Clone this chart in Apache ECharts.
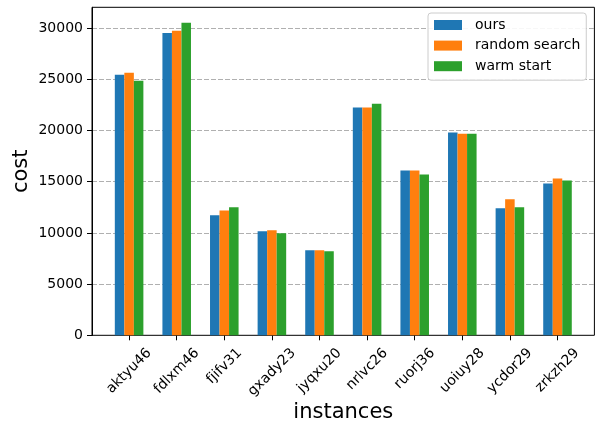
<!DOCTYPE html>
<html>
<head>
<meta charset="utf-8">
<script src="https://cdn.jsdelivr.net/npm/echarts@6/dist/echarts.min.js"></script>
<style>
html,body{margin:0;padding:0;background:#fff;}
#chart{width:597px;height:423px;}
</style>
</head>
<body>
<div id="chart"></div>
<script>
const categories = ['aktyu46','fdlxm46','fjifv31','gxady23','jyqxu20','nrlvc26','ruorj36','uoiuy28','ycdor29','zrkzh29'];
const ours = [25450, 29540, 11720, 10160, 8310, 22240, 16100, 19800, 12400, 14830];
const randomSearch = [25650, 29740, 12200, 10260, 8310, 22240, 16100, 19700, 13280, 15320];
const warmStart = [24870, 30520, 12500, 9960, 8210, 22630, 15710, 19700, 12500, 15130];
const yTicks = [0, 5000, 10000, 15000, 20000, 25000, 30000];

const FONT = 'DejaVu Sans';
const yMax = 32040;
const plotTop = 7.3, plotBottom = 335.3;
const band = 47.6;
const plotLeft = 92, plotRight = 594.4;
const firstCenter = 129.1;
const catLeft = firstCenter - band / 2;
const catRight = catLeft + band * categories.length;

// matplotlib-style rotated labels: rotated bbox centred on the tick, its top a fixed pad below the axis
const LABEL_FS = 14, LABEL_LH = 16;
const mctx = document.createElement('canvas').getContext('2d');
mctx.font = LABEL_FS + 'px "' + FONT + '"';
const labelPad = 9.8;
const catData = categories.map(function (c) {
  const w = mctx.measureText(c).width;
  const D = labelPad + 0.35355 * (w + LABEL_LH); // wanted offset of rotated bbox centre below the axis
  const cy = D / 1.41421;
  const pr = 2 * cy;
  const pt = Math.max(0, cy - LABEL_LH / 2);
  return {
    value: c,
    textStyle: {
      align: 'center', verticalAlign: 'top',
      padding: [pt, pr, 0, 0],
      fontFamily: FONT, fontSize: LABEL_FS, lineHeight: LABEL_LH, color: '#000'
    }
  };
});

const chart = echarts.init(document.getElementById('chart'), null, {renderer: 'canvas'});
chart.setOption({
  animation: false,
  backgroundColor: '#fff',
  textStyle: {fontFamily: FONT},
  grid: [
    {left: plotLeft, right: 597 - plotRight, top: plotTop, bottom: 423 - plotBottom, outerBoundsMode: 'none', containLabel: false,
     show: true, borderColor: '#000', borderWidth: 1, backgroundColor: 'transparent'},
    {left: catLeft, right: 597 - catRight, top: plotTop, bottom: 423 - plotBottom, outerBoundsMode: 'none', containLabel: false}
  ],
  legend: {
    orient: 'vertical',
    left: 428,
    top: 13,
    padding: [5, 6, 7, 6],
    itemGap: 6.6,
    itemWidth: 28,
    itemHeight: 10,
    icon: 'rect',
    backgroundColor: 'rgba(255,255,255,0.9)',
    borderColor: '#cccccc',
    borderWidth: 1,
    borderRadius: 3,
    textStyle: {fontFamily: FONT, fontSize: 14, color: '#000', lineHeight: 14, padding: [0, 0, 0, 8]},
    data: ['ours', 'random search', 'warm start']
  },
  xAxis: [
    {
      gridIndex: 0, type: 'value', min: 0, max: 1,
      axisLine: {show: false}, axisTick: {show: false}, axisLabel: {show: false}, splitLine: {show: false}
    },
    {
      gridIndex: 1, type: 'category', data: catData,
      name: 'instances', nameLocation: 'middle', nameGap: 67, nameMoveOverlap: false,
      nameTextStyle: {fontFamily: FONT, fontSize: 21, color: '#000'},
      axisLine: {show: false},
      axisTick: {show: true, alignWithLabel: true, length: 5, lineStyle: {color: '#000', width: 1}},
      axisLabel: {rotate: 45, margin: 0, align: 'center', verticalAlign: 'top', hideOverlap: false,
                  fontFamily: FONT, fontSize: LABEL_FS, lineHeight: LABEL_LH, color: '#000', interval: 0},
      splitLine: {show: false}
    }
  ],
  yAxis: [
    {
      gridIndex: 0, type: 'value', min: 0, max: yMax, interval: 5000,
      name: 'cost', nameLocation: 'middle', nameGap: 60, nameMoveOverlap: false,
      nameTextStyle: {fontFamily: FONT, fontSize: 21, color: '#000'},
      axisLine: {show: true, lineStyle: {color: '#000', width: 1}},
      axisTick: {show: true, length: 5, lineStyle: {color: '#000', width: 1}},
      axisLabel: {
        margin: 9, fontFamily: FONT, fontSize: 14, color: '#000', showMaxLabel: false,
        formatter: function (v) { return yTicks.indexOf(v) >= 0 ? String(v) : ''; }
      },
      splitLine: {show: true, showMinLine: false, showMaxLine: false, lineStyle: {color: '#b0b0b0', width: 1, type: [5, 2]}}
    },
    {
      gridIndex: 1, type: 'value', min: 0, max: yMax,
      axisLine: {show: false}, axisTick: {show: false}, axisLabel: {show: false}, splitLine: {show: false}
    }
  ],
  series: [
    {name: 'ours', type: 'bar', xAxisIndex: 1, yAxisIndex: 1, data: ours, barWidth: 9.52, barGap: '0%', itemStyle: {color: '#1f77b4'}},
    {name: 'random search', type: 'bar', xAxisIndex: 1, yAxisIndex: 1, data: randomSearch, barWidth: 9.52, barGap: '0%', itemStyle: {color: '#ff7f0e'}},
    {name: 'warm start', type: 'bar', xAxisIndex: 1, yAxisIndex: 1, data: warmStart, barWidth: 9.52, barGap: '0%', itemStyle: {color: '#2ca02c'}}
  ]
});
</script>
</body>
</html>
